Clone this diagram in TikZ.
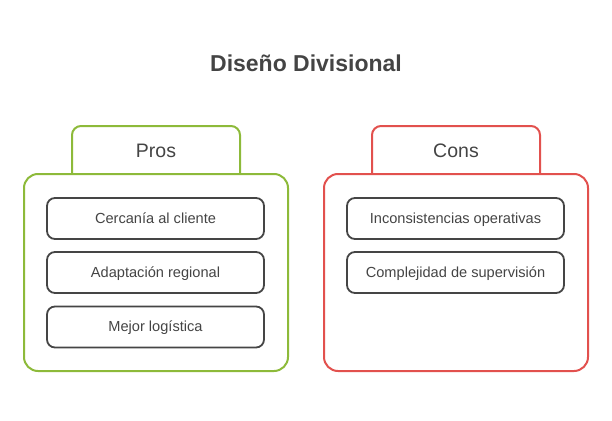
\documentclass[tikz,border=0pt]{standalone}
\usepackage{fontspec}
\setmainfont{Liberation Sans}
\definecolor{txt}{HTML}{444444}
\definecolor{progreen}{HTML}{8DBA3A}
\definecolor{conred}{HTML}{E2514E}
\definecolor{itemline}{HTML}{454545}
\tikzset{
  outerbox/.style={draw, line width=2pt, rounded corners=14pt},
  tabbox/.style={line width=2pt, rounded corners=9pt},
  itembox/.style={draw=itemline, line width=1.8pt, rounded corners=8pt, minimum width=217pt, minimum height=41pt, text=txt, font=\fontsize{14.6}{17}\selectfont, inner sep=0pt, text height=10pt, text depth=1pt},
  tablabel/.style={text=txt, font=\fontsize{19.5}{23}\selectfont, inner sep=0pt, text height=14pt, text depth=0pt},
}
\begin{document}
\begin{tikzpicture}[x=1pt,y=-1pt]
\useasboundingbox (0,0) rectangle (612,420);
\node[text=txt, font=\bfseries\fontsize{23}{27}\selectfont] (title) at (306,63) {Diseño Divisional};
% Pros
\draw[outerbox, progreen] (24,174) rectangle (288,371);
\draw[tabbox, progreen] (72,174) -- (72,126) -- (240,126) -- (240,174);
\node[tablabel] (pros) at (156,150.5) {Pros};
\node[itembox] (p1) at (155.5,218.5) {Cercanía al cliente};
\node[itembox] (p2) at (155.5,272.5) {Adaptación regional};
\node[itembox] (p3) at (155.5,327) {Mejor logística};
% Cons
\draw[outerbox, conred] (324,174) rectangle (588,371);
\draw[tabbox, conred] (372,174) -- (372,126) -- (540,126) -- (540,174);
\node[tablabel] (cons) at (456,150.5) {Cons};
\node[itembox] (c1) at (455.5,218.5) {Inconsistencias operativas};
\node[itembox] (c2) at (455.5,272.5) {Complejidad de supervisión};
\end{tikzpicture}
\end{document}
